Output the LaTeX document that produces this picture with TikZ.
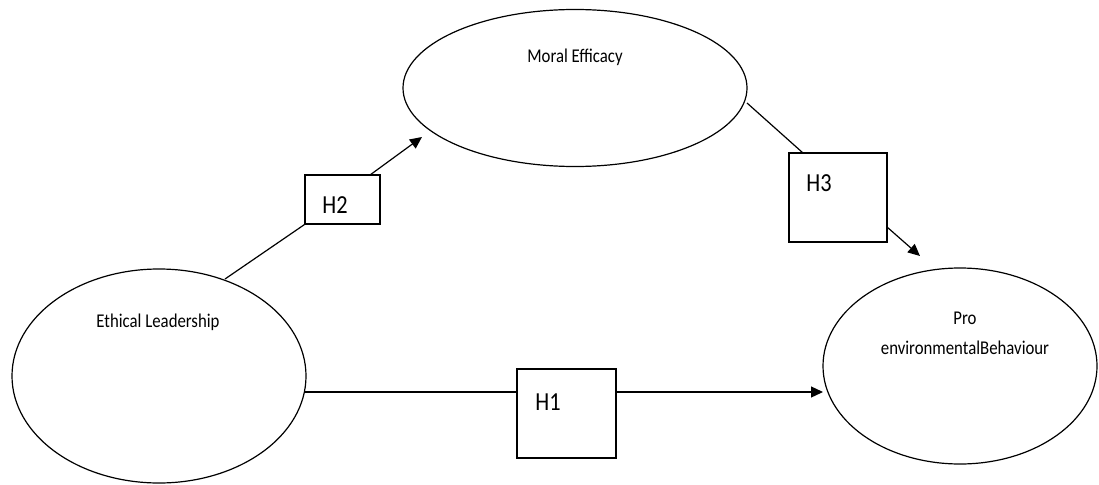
\documentclass[tikz,border=0pt]{standalone}
\usepackage{fontspec}
\setmainfont{Carlito}[FakeStretch=0.86]
\usetikzlibrary{shapes.geometric,arrows.meta,calc}
\begin{document}
\begin{tikzpicture}[x=1pt,y=-1pt,
  oval/.style={draw,line width=1.2pt,ellipse,inner sep=0pt},
  hbox/.style={draw,line width=1.2pt,rectangle,inner sep=0pt},
  lbl/.style={font=\fontsize{19.5}{23}\selectfont,inner sep=0pt},
  hlbl/.style={font=\fontsize{26}{30}\selectfont,inner sep=0pt},
  conn/.style={line width=1.2pt},
  arr/.style={line width=1.2pt,-{Triangle[length=12pt,width=11pt]}}]
\useasboundingbox (0,0) rectangle (1099,484);
% ellipses
\node[oval,minimum width=294pt,minimum height=214pt] (el) at (159,376) {};
\node[oval,minimum width=344pt,minimum height=157pt] (me) at (575,88) {};
\node[oval,minimum width=274pt,minimum height=196pt] (pe) at (960,366) {};
\node[lbl] (elt) at (158,322) {Ethical Leadership};
\node[lbl] (met) at (575,57) {Moral Efficacy};
\node[lbl] (pet1) at (965,318) {Pro};
\node[lbl] (pet2) at (965,348) {environmentalBehaviour};
% boxes
\node[hbox,minimum width=75pt,minimum height=49pt] (h2) at (342.5,199.5) {};
\node[hbox,minimum width=99pt,minimum height=89pt] (h1) at (566.5,413.5) {};
\node[hbox,minimum width=98pt,minimum height=89pt] (h3) at (838,197.5) {};
\node[hlbl] (h2t) at (335,205) {H2};
\node[hlbl] (h1t) at (548,402) {H1};
\node[hlbl] (h3t) at (819,183) {H3};
% connector points
\coordinate (a2) at (225,279);
\coordinate (b2) at (370,175);
\coordinate (e2) at (422,137);
\coordinate (a1) at (305,392);
\coordinate (e1) at (823,392);
\coordinate (a3) at (747,103);
\coordinate (b3) at (803,153);
\coordinate (c3) at (887,227);
\coordinate (e3) at (920,256);
% connectors
\draw[conn] (a2) -- (h2.south west);
\draw[arr] (b2) -- (e2);
\draw[conn] (a1) -- (h1.west |- a1);
\draw[arr] (h1.east |- a1) -- (e1);
\draw[conn] (a3) -- (b3);
\draw[arr] (c3) -- (e3);
\end{tikzpicture}
\end{document}
